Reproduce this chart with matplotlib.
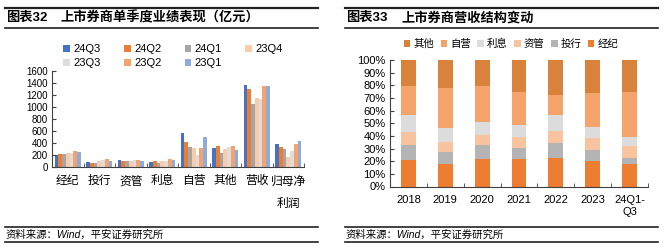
import matplotlib
matplotlib.use('Agg')
import matplotlib.pyplot as plt
from matplotlib.lines import Line2D
from matplotlib.ticker import FixedLocator, PercentFormatter
import numpy as np

plt.rcParams['font.family'] = ['Liberation Sans', 'Noto Sans CJK SC']
plt.rcParams['axes.unicode_minus'] = False

# 图表32: quarterly results (亿元)
cats = ['经纪', '投行', '资管', '利息', '自营', '其他', '营收', '归母净\n利润']
quarters = ['24Q3', '24Q2', '24Q1', '23Q4', '23Q3', '23Q2', '23Q1']
q_colors = ['#4472C4', '#ED7D31', '#A5A5A5', '#F8CBAD', '#DDDDDD', '#F4A46A', '#8FAADC']
quarter_vals = [
    [205, 80, 110, 80, 567, 322, 1367, 389],    # 24Q3
    [222, 63, 108, 95, 422, 356, 1300, 339],    # 24Q2
    [222, 63, 107, 62, 339, 239, 1056, 294],    # 24Q1
    [237, 94, 108, 94, 311, 294, 1150, 172],    # 23Q4
    [240, 112, 109, 95, 200, 339, 1133, 272],   # 23Q3
    [275, 130, 110, 130, 322, 356, 1350, 389],  # 23Q2
    [256, 94, 108, 111, 500, 278, 1350, 439],   # 23Q1
]

# 图表33: revenue structure (%)
years = ['2018', '2019', '2020', '2021', '2022', '2023', '24Q1-\nQ3']
seg_names = ['经纪', '投行', '资管', '利息', '自营', '其他']
seg_colors = ['#ED7D31', '#B4B4B4', '#F8C49F', '#DCDCDC', '#F4A46A', '#D9823B']
share_jingji = [20.8, 17.6, 21.6, 21.6, 22.4, 20.3, 17.6]
share_touhang = [12.1, 10.0, 11.3, 8.9, 12.1, 8.9, 5.3]
share_ziguan = [10.3, 7.9, 7.9, 8.7, 9.4, 9.2, 9.5]
share_lixi = [13.1, 10.6, 10.3, 9.5, 12.4, 8.7, 6.8]
share_ziying = [23.4, 32.1, 28.6, 26.3, 16.1, 27.1, 35.8]
share_qita = [20.3, 21.8, 20.3, 25.0, 27.6, 25.8, 25.0]
shares = [share_jingji, share_touhang, share_ziguan, share_lixi, share_ziying, share_qita]

W, H = 666, 250
fig = plt.figure(figsize=(W / 100, H / 100), dpi=100)


def px_box(x0, y0, x1, y1):
    return [x0 / W, 1 - y1 / H, (x1 - x0) / W, (y1 - y0) / H]


def hline(x0, x1, y, lw):
    fig.add_artist(Line2D([x0 / W, x1 / W], [1 - y / H, 1 - y / H], color='#222222', lw=lw))


axis_col = '#404040'


def style(ax):
    for s in ['top', 'right']:
        ax.spines[s].set_visible(False)
    for s in ['left', 'bottom']:
        ax.spines[s].set_color(axis_col)
        ax.spines[s].set_linewidth(0.8)
    ax.tick_params(axis='y', direction='in', length=3, color=axis_col, labelsize=7, pad=3)
    ax.tick_params(axis='x', which='major', length=0, labelsize=8.5, pad=6)
    ax.tick_params(axis='x', which='minor', direction='in', length=3, color=axis_col)


# ---- left panel
hline(5, 318, 8, 1.6)
hline(5, 318, 28, 1.2)
hline(5, 318, 227, 1.2)
hline(5, 318, 242, 1.2)
fig.text(6 / W, 1 - 18 / H, '图表32', fontsize=9.5, fontweight='bold', va='center')
fig.text(60 / W, 1 - 18 / H, '上市券商单季度业绩表现（亿元）', fontsize=9.5, fontweight='bold', va='center')
fig.text(6 / W, 1 - 235 / H, '资料来源：Wind，平安证券研究所', fontsize=7.5, style='italic', va='center')

ax1 = fig.add_axes(px_box(52, 71, 304, 167))
x = np.arange(len(cats))
bw = 0.12
handles = []
for i, (q, c) in enumerate(zip(quarters, q_colors)):
    handles.append(ax1.bar(x + (i - 3) * bw, quarter_vals[i], width=bw, color=c, label=q))
ax1.set_xlim(-0.5, len(cats) - 0.5)
ax1.set_ylim(0, 1600)
ax1.set_yticks(np.arange(0, 1601, 200))
ax1.set_xticks(x)
ax1.set_xticklabels(cats, linespacing=2.2, va='top')
ax1.xaxis.set_minor_locator(FixedLocator(np.arange(-0.5, len(cats), 1)))
style(ax1)
# legend fills column-wise; reorder so rows read 24Q3..23Q4 / 23Q3..23Q1
order = [0, 4, 1, 5, 2, 6, 3]
ax1.legend([handles[k] for k in order], [quarters[k] for k in order],
           loc='center', bbox_to_anchor=(173 / W, 1 - 56 / H), bbox_transform=fig.transFigure,
           ncol=4, fontsize=8, frameon=False, handlelength=0.6, handleheight=0.6,
           handletextpad=0.3, columnspacing=2.1, labelspacing=0.35, borderpad=0)

# ---- right panel
hline(345, 658, 8, 1.6)
hline(345, 658, 28, 1.2)
hline(345, 658, 227, 1.2)
hline(345, 658, 242, 1.2)
fig.text(346 / W, 1 - 18 / H, '图表33', fontsize=9.5, fontweight='bold', va='center')
fig.text(401 / W, 1 - 18 / H, '上市券商营收结构变动', fontsize=9.5, fontweight='bold', va='center')
fig.text(346 / W, 1 - 235 / H, '资料来源：Wind，平安证券研究所', fontsize=7.5, style='italic', va='center')

ax2 = fig.add_axes(px_box(390, 60, 648, 186.5))
xr = np.arange(len(years))
bottom = np.zeros(len(years))
bars = []
for name, vals, c in zip(seg_names, shares, seg_colors):
    v = np.array(vals) / 100
    b = ax2.bar(xr, v, bottom=bottom, width=0.4, color=c, label=name)
    bars.append(b)
    bottom += v
ax2.set_xlim(-0.5, len(years) - 0.5)
ax2.set_ylim(0, 1)
ax2.set_yticks(np.arange(0, 1.01, 0.1))
ax2.yaxis.set_major_formatter(PercentFormatter(1.0, decimals=0))
ax2.set_xticks(xr)
ax2.set_xticklabels(years, linespacing=1.3, va='top')
ax2.xaxis.set_minor_locator(FixedLocator(np.arange(-0.5, len(years), 1)))
style(ax2)
ax2.tick_params(axis='y', labelsize=8)
ax2.tick_params(axis='x', labelsize=8)
ax2.legend(bars[::-1], seg_names[::-1], loc='center', bbox_to_anchor=(511 / W, 1 - 44 / H),
           bbox_transform=fig.transFigure, ncol=6, fontsize=7.5, frameon=False,
           handlelength=0.6, handleheight=0.6, handletextpad=0.3, columnspacing=0.65, borderpad=0)

fig.savefig('out.png', dpi=100)
